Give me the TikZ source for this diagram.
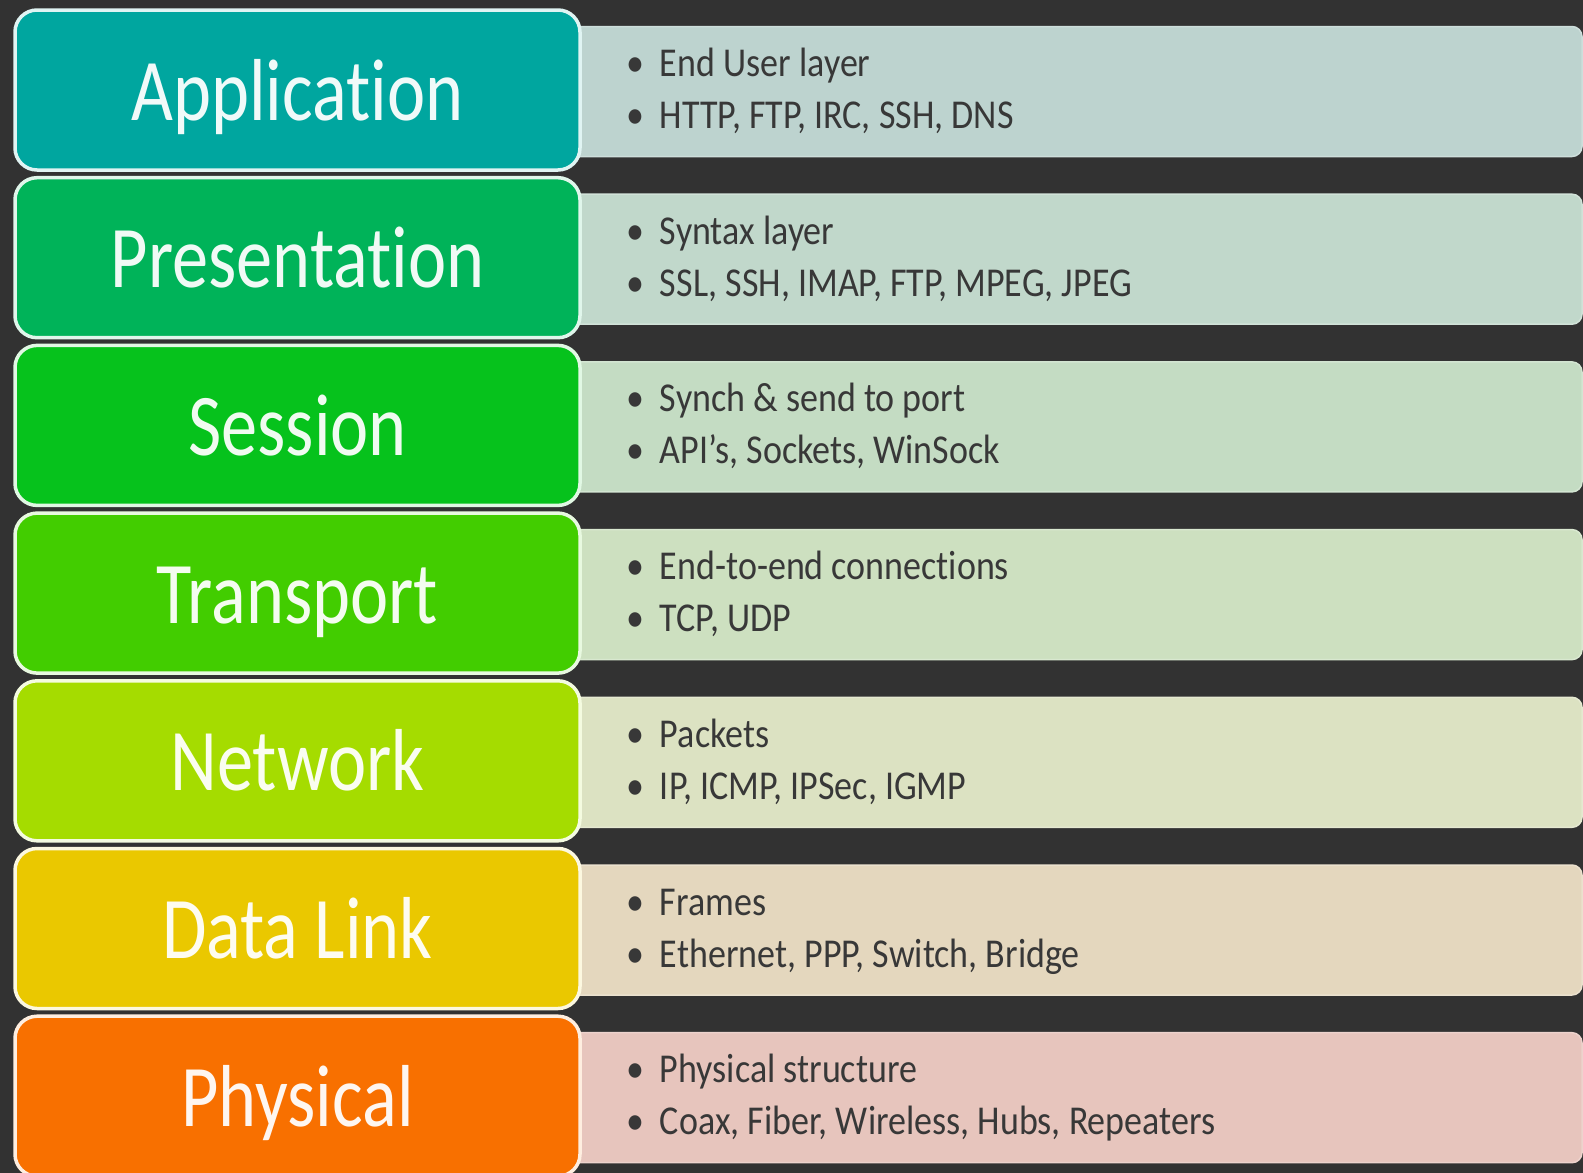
\documentclass[tikz,border=0pt]{standalone}
\usepackage{fontspec}
\newfontfamily\layerfont[FakeStretch=0.822, Ligatures=NoCommon]{Carlito}
\newfontfamily\notefont[FakeStretch=0.878, Ligatures=NoCommon]{Carlito}

\definecolor{bgdark}{HTML}{323232}
\definecolor{notegray}{HTML}{383838}
% layer colours (strong) and their pale description strips
\definecolor{appC}{HTML}{00A69F}   \definecolor{appP}{HTML}{BDD3CF}
\definecolor{preC}{HTML}{00B359}   \definecolor{preP}{HTML}{C1D8CB}
\definecolor{sesC}{HTML}{06C21C}   \definecolor{sesP}{HTML}{C4DCC3}
\definecolor{traC}{HTML}{42CD00}   \definecolor{traP}{HTML}{CDE0C0}
\definecolor{netC}{HTML}{A5DC00}   \definecolor{netP}{HTML}{DCE2C2}
\definecolor{datC}{HTML}{EAC800}   \definecolor{datP}{HTML}{E4D7BE}
\definecolor{phyC}{HTML}{F87000}   \definecolor{phyP}{HTML}{E7C5BD}

\tikzset{
  panelbox/.style={rectangle, anchor=north west, inner sep=0pt, outer sep=0pt,
    minimum width=1022pt, minimum height=130pt, rounded corners=10pt, line width=1.5pt},
  layerbox/.style={rectangle, anchor=north west, inner sep=0pt, outer sep=0pt,
    minimum width=565pt, minimum height=160pt, rounded corners=22pt, line width=3.5pt},
  titletext/.style={anchor=base, inner sep=0pt, outer sep=0pt,
    font=\layerfont\fontsize{88}{100}\selectfont},
  notetext/.style={anchor=base west, inner sep=0pt, outer sep=0pt, text=notegray,
    font=\notefont\fontsize{41}{52}\selectfont},
}

\newcommand\bulletmark{\makebox[34pt][l]{•}}

% one row: index, name, title, strong colour, pale colour, first line, second line
\newcommand\osilayer[7]{%
  \pgfmathsetmacro\rowtop{10+167.7*#1}%
  \pgfmathsetmacro\striptop{26.5+167.7*#1}%
  \node[panelbox, fill=#5, draw=#5!75!white] (#2-panel) at (560,\striptop) {};
  \node[layerbox, fill=#4, draw=white!88!#4] (#2-box) at (15,\rowtop) {};
  \node[titletext, text=white!94!#4] (#2-title) at (297.5,\rowtop+110) {#3};
  \node[notetext] (#2-a) at (626,\striptop+50) {\bulletmark #6};
  \node[notetext] (#2-b) at (626,\striptop+102) {\bulletmark #7};
}

\begin{document}
\begin{tikzpicture}[x=1pt, y=-1pt]
  \fill[bgdark] (0,0) rectangle (1583,1173);
  \useasboundingbox (0,0) rectangle (1583,1173);
  \clip (0,0) rectangle (1583,1173);

  \osilayer{0}{app}{Application}{appC}{appP}{End User layer}{HTTP, FTP, IRC, SSH, DNS}
  \osilayer{1}{pre}{Presentation}{preC}{preP}{Syntax layer}{SSL, SSH, IMAP, FTP, MPEG, JPEG}
  \osilayer{2}{ses}{Session}{sesC}{sesP}{Synch \& send to port}{API’s, Sockets, WinSock}
  \osilayer{3}{tra}{Transport}{traC}{traP}{End-to-end connections}{TCP, UDP}
  \osilayer{4}{net}{Network}{netC}{netP}{Packets}{IP, ICMP, IPSec, IGMP}
  \osilayer{5}{dat}{Data Link}{datC}{datP}{Frames}{Ethernet, PPP, Switch, Bridge}
  \osilayer{6}{phy}{Physical}{phyC}{phyP}{Physical structure}{Coax, Fiber, Wireless, Hubs, Repeaters}
\end{tikzpicture}
\end{document}
